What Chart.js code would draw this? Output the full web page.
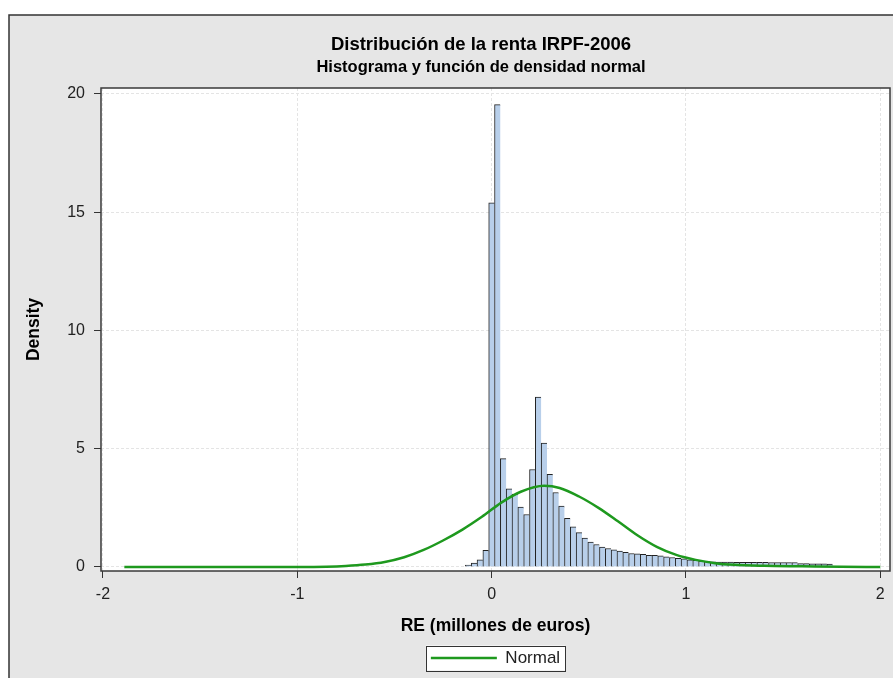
<!DOCTYPE html>
<html>
<head>
<meta charset="utf-8">
<script src="https://cdn.jsdelivr.net/npm/chart.js@4.4.1/dist/chart.umd.min.js"></script>
<style>
  html, body { margin: 0; padding: 0; background: #fff; }
  #wrap { width: 893px; height: 678px; }
</style>
</head>
<body>
<div id="wrap"><canvas id="hist" width="893" height="678"></canvas></div>
<script>
const titleText = 'Distribución de la renta IRPF-2006';
const subtitleText = 'Histograma y función de densidad normal';

// histogram bins (centre of each bin, width 0.03) and their density
const binCenters = [-0.15, -0.12, -0.09, -0.06, -0.03, 0, 0.03, 0.06, 0.09, 0.12,
  0.15, 0.18, 0.21, 0.24, 0.27, 0.30, 0.33, 0.36, 0.39, 0.42,
  0.45, 0.48, 0.51, 0.54, 0.57, 0.60, 0.63, 0.66, 0.69, 0.72,
  0.75, 0.78, 0.81, 0.84, 0.87, 0.90, 0.93, 0.96, 0.99, 1.02,
  1.05, 1.08, 1.11, 1.14, 1.17, 1.20, 1.23, 1.26, 1.29, 1.32,
  1.35, 1.38, 1.41, 1.44, 1.47, 1.50, 1.53, 1.56, 1.59, 1.62,
  1.65, 1.68, 1.71, 1.74];
const binDensity = [0.02, 0.08, 0.17, 0.30, 0.70, 15.4, 19.55, 4.58, 3.30, 3.08,
  2.53, 2.22, 4.12, 7.18, 5.24, 3.92, 3.15, 2.57, 2.06, 1.70,
  1.45, 1.22, 1.05, 0.95, 0.84, 0.78, 0.72, 0.67, 0.62, 0.57,
  0.56, 0.53, 0.49, 0.49, 0.47, 0.43, 0.40, 0.37, 0.34, 0.30,
  0.28, 0.25, 0.23, 0.22, 0.21, 0.21, 0.21, 0.20, 0.20, 0.20,
  0.20, 0.20, 0.20, 0.19, 0.19, 0.19, 0.19, 0.19, 0.14, 0.14,
  0.13, 0.13, 0.13, 0.12];

// normal density curve
const normalX = [-1.89, -1.5, -1.0, -0.85, -0.75, -0.65, -0.55, -0.45, -0.35, -0.25,
  -0.15, -0.05, 0.05, 0.15, 0.27, 0.35, 0.45, 0.55, 0.65, 0.75,
  0.85, 0.95, 1.05, 1.15, 1.25, 1.4, 1.6, 1.8, 2.0];
const normalY = [0, 0, 0, 0.01, 0.04, 0.10, 0.21, 0.41, 0.72, 1.12,
  1.58, 2.12, 2.72, 3.18, 3.43, 3.34, 2.98, 2.50, 1.93, 1.34,
  0.85, 0.51, 0.30, 0.16, 0.09, 0.05, 0.03, 0.01, 0];

const xTicks = [-2, -1, 0, 1, 2];
const yTicks = [0, 5, 10, 15, 20];

const family = '"Liberation Sans", Arial, Helvetica, sans-serif';
Chart.defaults.font.family = family;

const frameLeft = 9, frameTop = 15, frameWidth = 944;

const framePlugin = {
  id: 'frame',
  afterLayout(chart) {
    // titles are centred on the whole (wider) graph frame
    chart.boxes.forEach(b => {
      if (b.options && (b.options.text === titleText || b.options.text === subtitleText)) {
        b.left = frameLeft;
        b.right = frameLeft + frameWidth;
        b.width = frameWidth;
      }
    });
  },
  beforeDraw(chart) {
    const { ctx, chartArea: a, width, height } = chart;
    ctx.save();
    ctx.fillStyle = '#fff';
    ctx.fillRect(0, 0, width, height);
    ctx.fillStyle = '#e6e6e6';
    ctx.fillRect(frameLeft, frameTop, width, height);
    ctx.strokeStyle = '#333';
    ctx.lineWidth = 1.5;
    ctx.beginPath();
    ctx.moveTo(frameLeft, height);
    ctx.lineTo(frameLeft, frameTop);
    ctx.lineTo(width, frameTop);
    ctx.stroke();
    ctx.fillStyle = '#fff';
    ctx.fillRect(a.left, a.top, a.right - a.left, a.bottom - a.top);
    const hb = chart.legend.legendHitBoxes[0];
    if (hb) {
      ctx.fillStyle = '#fff';
      ctx.fillRect(hb.left - 5, hb.top - 4, hb.width + 10, hb.height + 8);
      ctx.strokeStyle = '#333';
      ctx.lineWidth = 1;
      ctx.strokeRect(Math.round(hb.left - 5) + 0.5, Math.round(hb.top - 4) + 0.5, Math.round(hb.width + 10), Math.round(hb.height + 8));
    }
    ctx.restore();
  },
  afterDraw(chart) {
    const { ctx, chartArea: a } = chart;
    ctx.save();
    ctx.strokeStyle = '#3a3a3a';
    ctx.lineWidth = 1.5;
    ctx.strokeRect(a.left, a.top, a.right - a.left, a.bottom - a.top);
    ctx.restore();
  }
};

new Chart(document.getElementById('hist'), {
  type: 'bar',
  data: {
    datasets: [
      {
        type: 'line',
        label: 'Normal',
        data: normalX.map((x, i) => ({ x, y: normalY[i] })),
        borderColor: '#1e991e',
        backgroundColor: '#1e991e',
        borderWidth: 2.5,
        pointRadius: 0,
        pointStyle: 'line',
        cubicInterpolationMode: 'monotone',
        fill: false,
        order: 0
      },
      {
        type: 'bar',
        label: 'RE',
        data: binCenters.map((x, i) => ({ x, y: binDensity[i] })),
        backgroundColor: '#b8cfea',
        borderColor: '#222',
        borderWidth: { top: 1, left: 1, right: 0, bottom: 0 },
        barPercentage: 1,
        categoryPercentage: 1,
        order: 1
      }
    ]
  },
  options: {
    responsive: false,
    animation: false,
    devicePixelRatio: 1,
    layout: { padding: { left: 0, right: 3, top: 0, bottom: 1.5 } },
    scales: {
      x: {
        type: 'linear',
        min: -2.01,
        max: 2.05,
        offset: false,
        afterBuildTicks: s => { s.ticks = xTicks.map(v => ({ value: v })); },
        afterFit: s => { s.height = 68.5; },
        grid: { offset: false, color: '#e4e4e4', tickColor: '#333', tickLength: 7 },
        border: { display: false, dash: [3, 2] },
        ticks: { autoSkip: false, maxRotation: 0, padding: 7, color: '#222', font: { size: 16 }, callback: v => String(v) },
        title: { display: true, text: 'RE (millones de euros)', color: '#000', font: { size: 17.5, weight: 'bold' }, padding: { top: 0, bottom: 3 } }
      },
      y: {
        min: -0.17,
        max: 20.25,
        afterBuildTicks: s => { s.ticks = yTicks.map(v => ({ value: v })); },
        afterFit: s => { s.width = 101; },
        grid: { color: '#e4e4e4', tickColor: '#333', tickLength: 7 },
        border: { display: false, dash: [3, 2] },
        ticks: { padding: 9, color: '#222', font: { size: 16 }, callback: v => String(v) },
        title: { display: true, text: 'Density', color: '#000', font: { size: 17.5, weight: 'bold' }, padding: { top: 23.5, bottom: 0 } }
      }
    },
    plugins: {
      title: {
        display: true, text: titleText, color: '#000',
        font: { size: 18.5, weight: 'bold' }, padding: { top: 34, bottom: 0 }
      },
      subtitle: {
        display: true, text: subtitleText, color: '#000',
        font: { size: 16.5, weight: 'bold' }, padding: { top: 1.5, bottom: 10.5 }
      },
      legend: {
        position: 'bottom',
        fullSize: false,
        labels: {
          color: '#222',
          font: { size: 17 },
          padding: 10,
          usePointStyle: true,
          pointStyle: 'line',
          pointStyleWidth: 66,
          filter: item => item.text === 'Normal'
        }
      },
      tooltip: { enabled: false }
    }
  },
  plugins: [framePlugin]
});
</script>
</body>
</html>
